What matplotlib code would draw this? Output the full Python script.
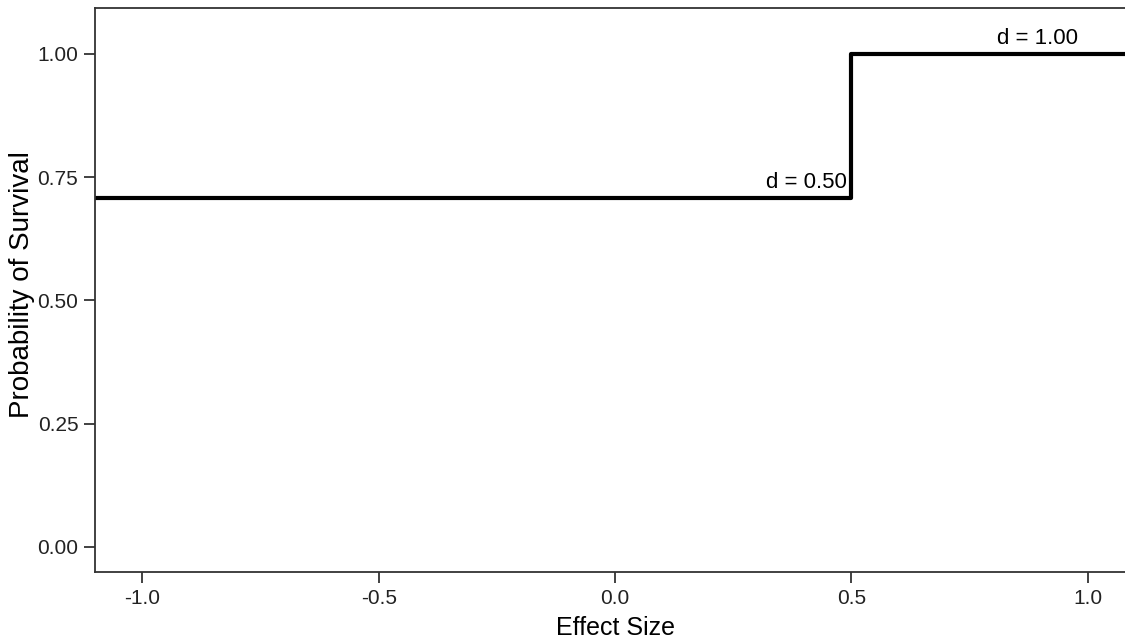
import matplotlib.pyplot as plt

# Step data: survival probability by effect size
effect_size = [-1.1, 0.5, 1.1]
survival = [0.707, 1.0, 1.0]

# Annotation labels
labels = ['d = 0.50', 'd = 1.00']
label_x = [0.49, 0.98]
label_y = [0.707, 1.0]

x_ticks = [-1.0, -0.5, 0.0, 0.5, 1.0]
y_ticks = [0.00, 0.25, 0.50, 0.75, 1.00]

plt.rcParams['font.family'] = ['Liberation Sans', 'DejaVu Sans']

fig = plt.figure(figsize=(11.25, 6.43), dpi=100)
ax = fig.add_axes([95 / 1125, 1 - 572 / 643, 1040 / 1125, 564 / 643])

ax.step(effect_size, survival, where='post', color='black', linewidth=3)

for txt, x, y in zip(labels, label_x, label_y):
    ax.text(x, y + 0.01, txt, ha='right', va='bottom', fontsize=16)

ax.set_xlim(-1.1, 1.1)
ax.set_ylim(-0.051, 1.093)
ax.set_xticks(x_ticks)
ax.set_xticklabels(['%.1f' % v for v in x_ticks])
ax.set_yticks(y_ticks)
ax.set_yticklabels(['%.2f' % v for v in y_ticks])

for s in ax.spines.values():
    s.set_color('#333333')
    s.set_linewidth(1.3)

ax.tick_params(axis='both', direction='out', length=8, width=1.3,
               color='#333333', labelsize=15, labelcolor='#222222', pad=4)

ax.set_xlabel('Effect Size', fontsize=18, labelpad=6)
ax.set_ylabel('Probability of Survival', fontsize=20)
ax.yaxis.set_label_coords(-0.058, 0.51)

plt.savefig('out.png', dpi=100)
